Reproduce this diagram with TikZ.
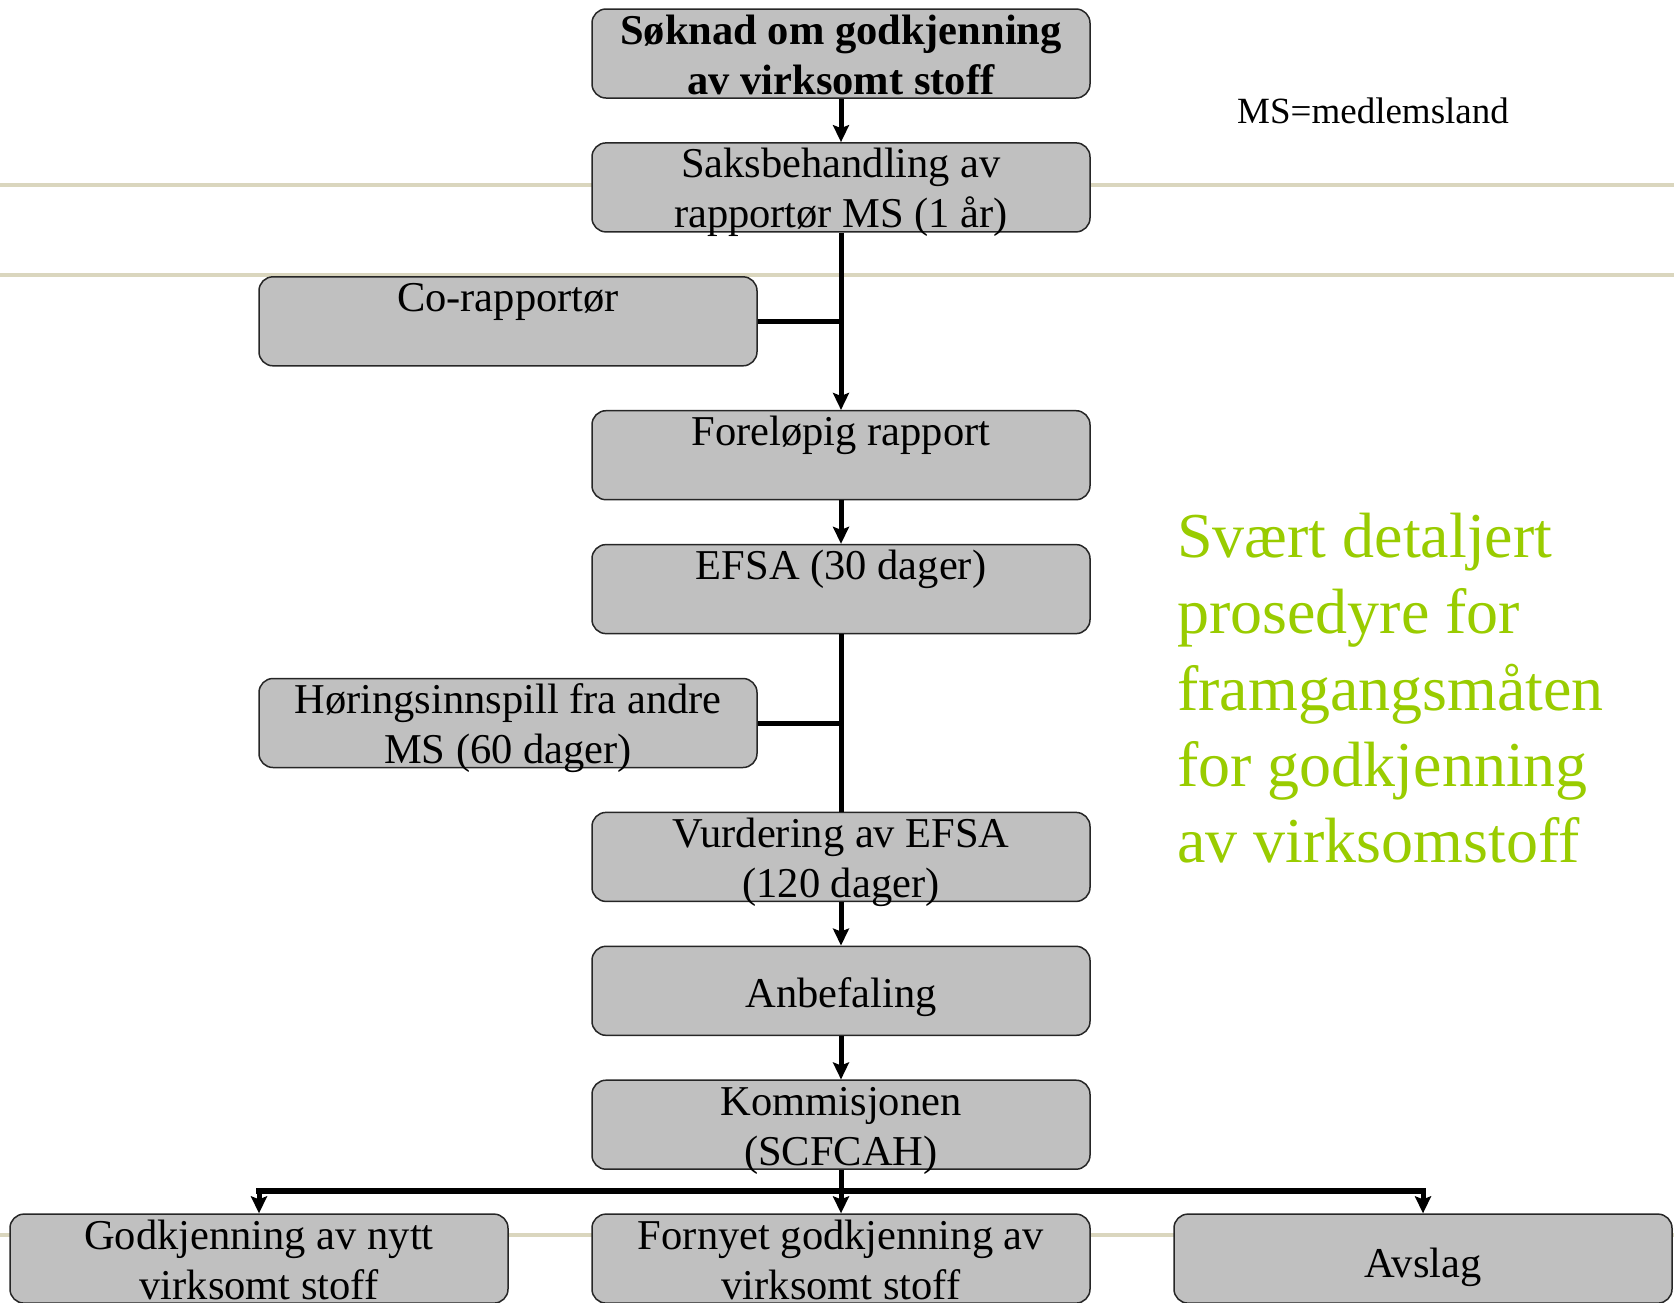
\documentclass[tikz,border=0pt]{standalone}
\usepackage{fontspec}
\setmainfont{Liberation Serif}
\usetikzlibrary{arrows.meta}
\definecolor{boxgray}{RGB}{192,192,192}
\definecolor{rulebeige}{RGB}{218,214,190}
\definecolor{limegreen}{RGB}{153,204,0}
\newcommand{\boxtxt}[2][0pt]{\parbox[t][89pt][t]{498pt}{\centering\vspace*{#1}\strut#2}}
\begin{document}
\begin{tikzpicture}[x=1pt,y=-1pt,
    box/.style={draw=black!85,line width=1.5pt,fill=boxgray,rounded corners=14pt,
      inner sep=0pt,minimum width=498pt,minimum height=89pt,
      font=\fontsize{42.5}{50}\selectfont},
    conn/.style={line width=5pt},
    arr/.style={conn,-{Stealth[length=17pt,width=16pt,inset=3pt]}}]
    \def\dy{133.9}
    \def\cx{841}
    \useasboundingbox (0,0) rectangle (1674,1302);
    \foreach \y in {185,275,1235}
    \draw[rulebeige,line width=4pt] (0,\y) -- (1674,\y);
    % main column and side boxes
    \node[box] (soknad) at (\cx,53.5) {\boxtxt{\bfseries Søknad om godkjenning\\av virksomt stoff}};
    \node[box] (sak) at (\cx,{53.5+\dy}) {\boxtxt{Saksbehandling av\\rapportør MS (1 år)}};
    \node[box] (corap) at (508,{53.5+2*\dy}) {\boxtxt{Co-rapportør}};
    \node[box] (forelop) at (\cx,{53.5+3*\dy}) {\boxtxt{Foreløpig rapport}};
    \node[box] (efsa) at (\cx,{53.5+4*\dy}) {\boxtxt{EFSA (30 dager)}};
    \node[box] (horing) at (508,{53.5+5*\dy}) {\boxtxt{Høringsinnspill fra andre\\MS (60 dager)}};
    \node[box] (vurd) at (\cx,{53.5+6*\dy}) {\boxtxt{Vurdering av EFSA\\(120 dager)}};
    \node[box] (anbef) at (\cx,{53.5+7*\dy}) {\boxtxt[26pt]{Anbefaling}};
    \node[box] (komm) at (\cx,{53.5+8*\dy}) {\boxtxt{Kommisjonen\\(SCFCAH)}};
    \node[box] (godk) at (259,{53.5+9*\dy}) {\boxtxt{Godkjenning av nytt\\virksomt stoff}};
    \node[box] (forny) at (\cx,{53.5+9*\dy}) {\boxtxt{Fornyet godkjenning av\\virksomt stoff}};
    \node[box] (avslag) at (1423,{53.5+9*\dy}) {\boxtxt[28pt]{Avslag}};
    % connectors
    \draw[arr] (soknad) -- (sak);
    \draw[arr] (sak) -- (forelop);
    \draw[conn] (corap.east) -- (corap.east -| sak.south);
    \draw[arr] (forelop) -- (efsa);
    \draw[conn] (efsa) -- (vurd);
    \draw[conn] (horing.east) -- (horing.east -| efsa.south);
    \draw[arr] (vurd) -- (anbef);
    \draw[arr] (anbef) -- (komm);
    \coordinate (split) at (\cx,1191);
    \draw[arr] (komm) -- (forny);
    \draw[line width=6pt,line cap=rect] (split -| godk) -- (split -| avslag);
    \draw[arr] (split -| godk) -- (godk);
    \draw[arr] (split -| avslag) -- (avslag);
    % notes
    \node[font=\fontsize{37}{44}\selectfont,anchor=base west,inner sep=0pt] (msnote) at (1237,123) {MS=medlemsland};
    \node[font=\fontsize{64}{76.3}\selectfont,text=limegreen,align=left,anchor=north west,inner sep=0pt]
      (summary) at (1177,503.9) {\strut Svært detaljert\\prosedyre for\\framgangsmåten\\for godkjenning\\av virksomstoff};
\end{tikzpicture}
\end{document}
